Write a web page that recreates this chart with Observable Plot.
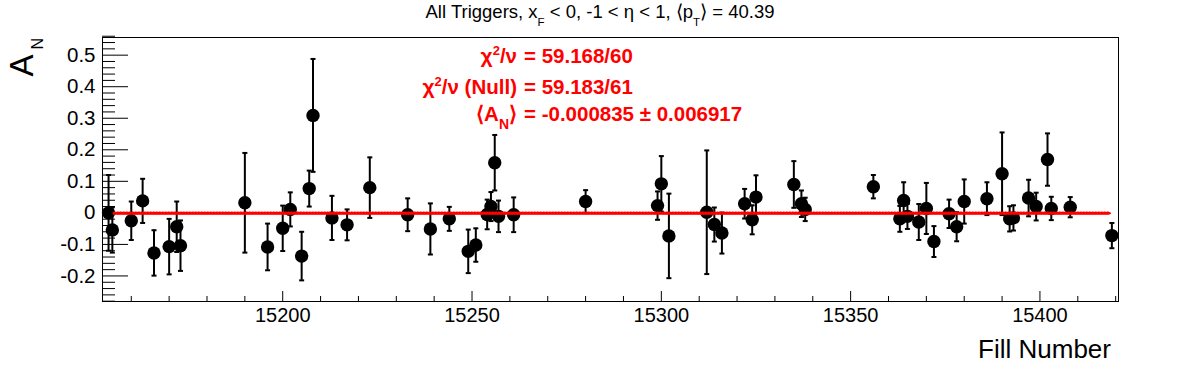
<!DOCTYPE html>
<html><head><meta charset="utf-8">
<script src="https://cdn.jsdelivr.net/npm/d3@7"></script>
<script src="https://cdn.jsdelivr.net/npm/@observablehq/plot@0.6"></script>
<style>body{margin:0;background:#fff} svg{display:block}</style>
</head><body><div id="chart"></div>
<script>
// ---- data ----
const fillNumbers = [15154,15155,15160,15163,15166,15170,15172,15173,15190,15196,15200,15202,15205,15207,15208,15213,15217,15223,15233,15239,15244,15249,15251,15254,15255,15256,15257,15261,15280,15299,15300,15302,15312,15314,15316,15322,15324,15325,15335,15337,15338,15356,15363,15364,15365,15368,15370,15372,15376,15378,15380,15386,15390,15392,15393,15397,15399,15402,15403,15408,15419];
const asymmetry = [0.000,-0.054,-0.025,0.038,-0.127,-0.107,-0.044,-0.104,0.032,-0.108,-0.049,0.011,-0.137,0.077,0.309,-0.016,-0.038,0.080,-0.006,-0.051,-0.019,-0.122,-0.102,-0.005,0.020,0.159,-0.011,-0.006,0.036,0.023,0.092,-0.073,0.002,-0.037,-0.064,0.029,-0.022,0.050,0.090,0.029,0.011,0.083,-0.019,0.039,-0.011,-0.029,0.014,-0.091,-0.003,-0.044,0.036,0.045,0.124,-0.019,-0.016,0.047,0.020,0.169,0.014,0.018,-0.072];
const asymError = [0.120,0.072,0.061,0.070,0.072,0.088,0.080,0.080,0.158,0.074,0.072,0.054,0.077,0.057,0.179,0.070,0.049,0.096,0.052,0.081,0.038,0.069,0.053,0.047,0.046,0.088,0.050,0.055,0.036,0.045,0.088,0.134,0.196,0.054,0.065,0.047,0.046,0.069,0.074,0.042,0.037,0.037,0.041,0.058,0.040,0.057,0.081,0.049,0.045,0.046,0.070,0.052,0.131,0.040,0.040,0.058,0.044,0.083,0.037,0.032,0.040];
const fitValue = -0.000835;
const fitRange = [15155.5, 15418.5];
const xTickValues = [15200, 15250, 15300, 15350, 15400];
const yTickValues = [-0.2, -0.1, 0, 0.1, 0.2, 0.3, 0.4, 0.5];
const xDomain = [15152.4, 15420.75];
const yDomain = [-0.281, 0.556];
const statLabels = ["χ^2/ν", "χ^2/ν (Null)", "⟨A_N⟩"];
const statValues = ["= 59.168/60", "= 59.183/61", "= -0.000835 ± 0.006917"];

// ---- build ----
const W = 1196, H = 372;
const mT = 37, mR = 78, mB = 71, mL = 102;
const innerW = W - mL - mR, innerH = H - mT - mB;
const FONT = "'Liberation Sans', Arial, Helvetica, sans-serif";

const points = fillNumbers.map((f, i) => ({fill: f, a: asymmetry[i], e: asymError[i]}));
const caps = points.flatMap(d => [{fill: d.fill, y: d.a - d.e}, {fill: d.fill, y: d.a + d.e}]);
const fitLine = fitRange.map(x => ({x, y: fitValue}));

const xMinor = d3.range(15160, 15421, 10).filter(v => v % 50 !== 0);
const yMinor = d3.range(-0.28, 0.5601, 0.02).map(v => Math.round(v * 100) / 100)
  .filter(v => Math.abs(v * 10 - Math.round(v * 10)) > 1e-6);

const capSymbol = {draw(ctx, size) { const r = Math.sqrt(size / Math.PI); ctx.moveTo(-r, 0); ctx.lineTo(r, 0); }};

const chart = Plot.plot({
  width: W, height: H,
  marginTop: mT, marginRight: mR, marginBottom: mB, marginLeft: mL,
  style: {fontFamily: FONT, background: "white", color: "black"},
  x: {domain: xDomain, label: null},
  y: {domain: yDomain, label: null},
  marks: [
    Plot.frame({stroke: "black", strokeWidth: 1}),
    Plot.tickX(xTickValues, {x: d => d, insetTop: innerH - 10, stroke: "black"}),
    Plot.tickX(xMinor, {x: d => d, insetTop: innerH - 5, stroke: "black"}),
    Plot.tickY(yTickValues, {y: d => d, insetRight: innerW - 26, stroke: "black"}),
    Plot.tickY(yMinor, {y: d => d, insetRight: innerW - 13, stroke: "black"}),
    Plot.axisX(xTickValues, {tickSize: 0, tickPadding: 6, fontSize: 20, label: null, tickFormat: d => String(d)}),
    Plot.axisY(yTickValues, {tickSize: 0, tickPadding: 7, fontSize: 20.5, label: null, tickFormat: d => String(d)}),
    Plot.ruleX(points, {x: "fill", y1: d => d.a - d.e, y2: d => d.a + d.e, stroke: "black", strokeWidth: 2}),
    Plot.dot(caps, {x: "fill", y: "y", r: 2.5, symbol: capSymbol, stroke: "black", strokeWidth: 2, fill: "none"}),
    Plot.dot(points, {x: "fill", y: "a", r: 6.7, fill: "black", stroke: "none"}),
    Plot.line(fitLine, {x: "x", y: "y", stroke: "#ff0000", strokeWidth: 2}),
    Plot.line(fitLine, {x: "x", y: "y", stroke: "#ff0000", strokeWidth: 3.2, strokeDasharray: "1,2"})
  ]
});

const svg = d3.select(chart);
function addText(x, y, parts, attrs) {
  const t = svg.append("text").attr("x", x).attr("y", y).attr("font-family", FONT);
  for (const [k, v] of Object.entries(attrs || {})) t.attr(k, v);
  for (const p of parts) {
    const s = t.append("tspan").text(p.t);
    if (p.size) s.attr("font-size", p.size);
    if (p.dy) s.attr("dy", p.dy);
    if (p.dx) s.attr("dx", p.dx);
  }
  return t;
}
// title
addText(600, 18, [
  {t: "All Triggers, x"}, {t: "F", size: 11.5, dy: 8}, {t: " < 0, -1 < η < 1, ⟨p", dy: -8}, {t: "T", size: 11.5, dy: 8}, {t: "⟩ = 40.39", dy: -8}
], {"font-size": 18.5, "text-anchor": "middle", fill: "black"});
// y label
svg.append("text").attr("transform", "translate(33,38) rotate(-90)").attr("text-anchor", "end")
  .attr("font-family", FONT).attr("font-size", 33).attr("fill", "black")
  .call(t => { t.append("tspan").text("A"); t.append("tspan").text("N").attr("font-size", 16).attr("dy", 10).attr("dx", 5); });
// x label
addText(1111, 358, [{t: "Fill Number"}], {"font-size": 26, "text-anchor": "end", fill: "black"});
// stats
const statY = [63, 94, 121];
statLabels.forEach((lab, i) => {
  let parts;
  if (lab.includes("_")) {
    const [a, b] = lab.split("_");
    parts = [{t: a}, {t: b[0], size: 14, dy: 8}, {t: b.slice(1), dy: -8}];
  } else {
    const [a, b] = lab.split("^");
    parts = [{t: a, size: 21}, {t: b[0], size: 13, dy: -8}, {t: b.slice(1), dy: 8}];
  }
  addText(517, statY[i], parts, {"font-size": 20.5, "font-weight": "bold", "text-anchor": "end", fill: "#ff0000"});
  addText(524, statY[i], [{t: statValues[i]}], {"font-size": 20.5, "font-weight": "bold", "text-anchor": "start", fill: "#ff0000"});
});

document.getElementById("chart").append(chart);
</script>
</body></html>
